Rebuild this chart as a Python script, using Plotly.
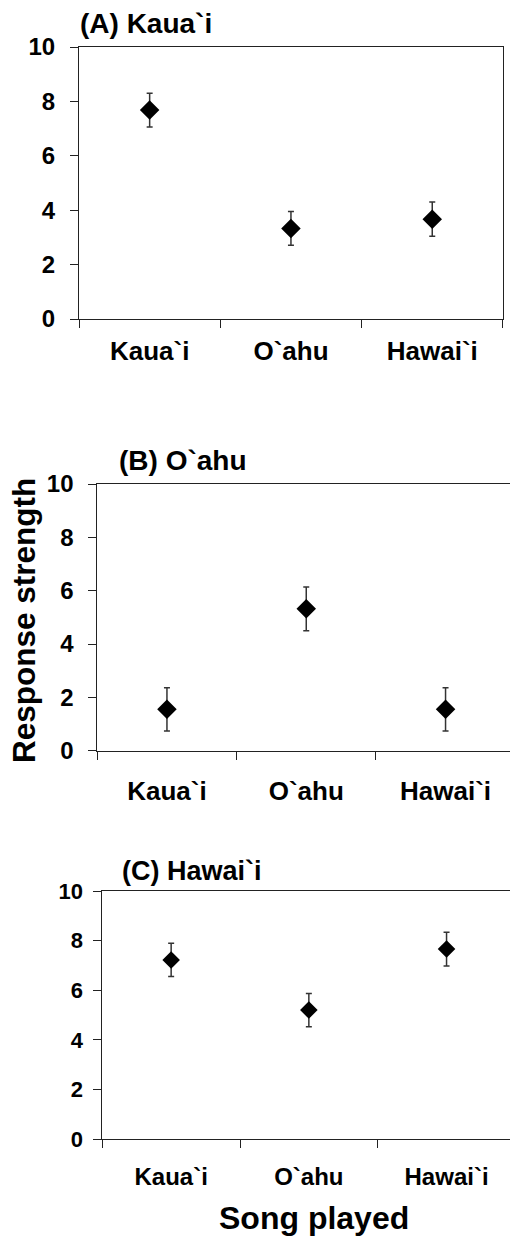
import plotly.graph_objects as go

# ---- data ----
song_played = ["Kaua`i", "O`ahu", "Hawai`i"]

kauai_response = [7.68, 3.33, 3.67]
kauai_error = [0.62, 0.62, 0.63]

oahu_response = [1.55, 5.32, 1.55]
oahu_error = [0.81, 0.82, 0.81]

hawaii_response = [7.22, 5.20, 7.66]
hawaii_error = [0.67, 0.67, 0.68]

panel_titles = ["(A) Kaua`i", "(B) O`ahu", "(C) Hawai`i"]
y_ticks = [0, 2, 4, 6, 8, 10]

W, H = 510, 1238
FONT = "Liberation Sans, Arial, sans-serif"
AX = "#222222"

fig = go.Figure()

panels = [
    dict(v=kauai_response, e=kauai_error, left=79, right=503, y0=319, y10=47, sp=141.3,
         mirror=True, ms=15, xf=26, yf=24, xso=9, yso=10,
         title=panel_titles[0], tx=78, ty=24, tf=28),
    dict(v=oahu_response, e=oahu_error, left=97.3, right=510, y0=750.7, y10=484, sp=139.3,
         mirror=False, ms=15, xf=26, yf=24, xso=17, yso=10,
         title=panel_titles[1], tx=117, ty=460, tf=28),
    dict(v=hawaii_response, e=hawaii_error, left=102.3, right=510, y0=1139, y10=891, sp=137.7,
         mirror=False, ms=13.5, xf=24, yf=22, xso=16, yso=6,
         title=panel_titles[2], tx=120, ty=871, tf=27),
]

for i, p in enumerate(panels, start=1):
    xa = "x" if i == 1 else f"x{i}"
    ya = "y" if i == 1 else f"y{i}"
    fig.add_trace(go.Scatter(
        x=song_played, y=p["v"], xaxis=xa, yaxis=ya, mode="markers",
        marker=dict(symbol="diamond", size=p["ms"], color="black"),
        error_y=dict(type="data", array=p["e"], visible=True, color="#333333",
                     thickness=1.5, width=3),
        showlegend=False, cliponaxis=False,
    ))
    xmax = -0.5 + (p["right"] - p["left"]) / p["sp"]
    xkey = "xaxis" if i == 1 else f"xaxis{i}"
    ykey = "yaxis" if i == 1 else f"yaxis{i}"
    fig.update_layout(**{
        xkey: dict(
            domain=[p["left"] / W, min(p["right"] / W, 1.0)],
            anchor=ya, type="category", categoryorder="array", categoryarray=song_played,
            range=[-0.5, xmax], tickson="boundaries", automargin=False,
            showline=True, linecolor=AX, linewidth=1, mirror=True,
            ticks="outside", ticklen=8, tickcolor=AX, tickwidth=1,
            showgrid=False, zeroline=False,
            tickmode="array", tickvals=song_played,
            ticktext=[f"<b>{c}</b>" for c in song_played],
            tickfont=dict(family=FONT, size=p["xf"], color="black"),
            ticklabelstandoff=p["xso"],
        ),
        ykey: dict(
            domain=[1 - p["y0"] / H, 1 - p["y10"] / H],
            anchor=xa, range=[0, 10], automargin=False,
            tickmode="array", tickvals=y_ticks,
            ticktext=[f"<b>{t}</b>" for t in y_ticks],
            showline=True, linecolor=AX, linewidth=1, mirror=p["mirror"],
            ticks="outside", ticklen=8, tickcolor=AX, tickwidth=1,
            showgrid=False, zeroline=False,
            tickfont=dict(family=FONT, size=p["yf"], color="black"),
            ticklabelstandoff=p["yso"],
        ),
    })
    fig.add_annotation(
        text=f"<b>{p['title']}</b>", xref="paper", yref="paper",
        x=p["tx"] / W, y=1 - p["ty"] / H, xanchor="left", yanchor="middle",
        showarrow=False, font=dict(family=FONT, size=p["tf"], color="black"),
    )

fig.add_annotation(
    text="<b>Response strength</b>", xref="paper", yref="paper",
    x=24 / W, y=1 - 621 / H, xanchor="center", yanchor="middle", textangle=-90,
    showarrow=False, font=dict(family=FONT, size=31.5, color="black"),
)
fig.add_annotation(
    text="<b>Song played</b>", xref="paper", yref="paper",
    x=314 / W, y=1 - 1218 / H, xanchor="center", yanchor="middle",
    showarrow=False, font=dict(family=FONT, size=32, color="black"),
)

fig.update_layout(
    width=W, height=H, margin=dict(l=0, r=0, t=0, b=0, autoexpand=False),
    paper_bgcolor="white", plot_bgcolor="white",
    font=dict(family=FONT, color="black"),
)

fig.write_html(
    "out.html",
    config={"displayModeBar": False},
    post_script="document.body.style.margin='0';document.body.style.padding='0';",
)
